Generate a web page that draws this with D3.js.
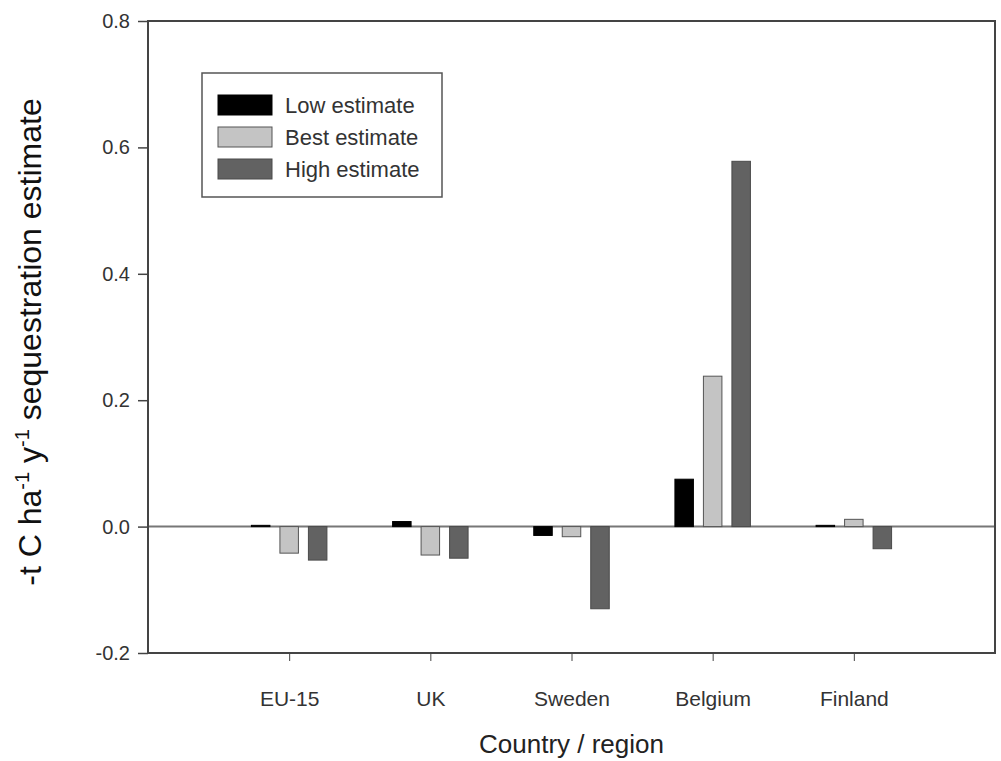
<!DOCTYPE html>
<html>
<head>
<meta charset="utf-8">
<script src="https://cdn.jsdelivr.net/npm/d3@7"></script>
<style>
  html, body { margin: 0; padding: 0; background: #fff; }
  text { font-family: "Liberation Sans", Arial, sans-serif; }
</style>
</head>
<body>
<svg id="chart" width="1001" height="761"></svg>
<script>
const categories = ["EU-15", "UK", "Sweden", "Belgium", "Finland"];
const seriesNames = ["Low estimate", "Best estimate", "High estimate"];
const lowValues  = [0.002, 0.008, -0.014, 0.075, 0.002];
const bestValues = [-0.042, -0.045, -0.016, 0.238, 0.0115];
const highValues = [-0.053, -0.050, -0.130, 0.578, -0.035];
const yTicks = [-0.2, 0.0, 0.2, 0.4, 0.6, 0.8];

(function () {
const fills = ["#000000", "#c4c4c4", "#626262"];
const strokes = ["#000000", "#555555", "#4a4a4a"];

const svg = d3.select("#chart");
const pL = 148, pR = 995, pT = 21, pB = 653;

const x = d3.scaleLinear().domain([0, categories.length + 1]).range([pL, pR]);
const y = d3.scaleLinear().domain([-0.2, 0.8]).range([pB, pT]);

const series = [lowValues, bestValues, highValues];
const barW = 18.5, barStep = 28.5;

svg.append("line")
  .attr("x1", pL).attr("x2", pR)
  .attr("y1", y(0)).attr("y2", y(0))
  .attr("stroke", "#777").attr("stroke-width", 2);

series.forEach((vals, s) => {
  svg.append("g").selectAll("rect")
    .data(vals)
    .join("rect")
    .attr("x", (d, i) => x(i + 1) + (s - 1) * barStep - barW / 2)
    .attr("y", d => y(Math.max(0, d)))
    .attr("width", barW)
    .attr("height", d => Math.abs(y(d) - y(0)))
    .attr("fill", fills[s])
    .attr("stroke", strokes[s])
    .attr("stroke-width", 1);
});

svg.append("rect")
  .attr("x", pL).attr("y", pT)
  .attr("width", pR - pL).attr("height", pB - pT)
  .attr("fill", "none").attr("stroke", "#444").attr("stroke-width", 2);

const fmt = d3.format(".1f");
const yAxis = svg.append("g")
  .attr("transform", `translate(${pL},0)`)
  .call(d3.axisLeft(y).tickValues(yTicks)
        .tickFormat(d => fmt(d).replace("\u2212", "-")).tickSize(10).tickPadding(8));
yAxis.select(".domain").remove();
yAxis.selectAll(".tick line").attr("stroke", "#444").attr("stroke-width", 1.5);
yAxis.selectAll(".tick text").attr("font-size", 20).attr("fill", "#333")
  .style("font-family", "'Liberation Sans', Arial, sans-serif");

const xAxis = svg.append("g")
  .attr("transform", `translate(0,${pB})`)
  .call(d3.axisBottom(x).tickValues(d3.range(1, categories.length + 1))
        .tickFormat(i => categories[i - 1]).tickSize(8).tickPadding(30));
xAxis.select(".domain").remove();
xAxis.selectAll(".tick line").attr("stroke", "#444").attr("stroke-width", 1);
xAxis.selectAll(".tick text").attr("font-size", 21).attr("fill", "#333")
  .style("font-family", "'Liberation Sans', Arial, sans-serif");

svg.append("text")
  .attr("x", (pL + pR) / 2).attr("y", 753)
  .attr("text-anchor", "middle").attr("font-size", 26).attr("fill", "#222")
  .text("Country / region");

const yt = svg.append("text")
  .attr("transform", `translate(41,${(pT + pB) / 2 + 5}) rotate(-90)`)
  .attr("text-anchor", "middle").attr("font-size", 32).attr("fill", "#111");
yt.append("tspan").text("-t C ha");
yt.append("tspan").attr("font-size", 20).attr("dy", -12).text("-1");
yt.append("tspan").attr("dy", 12).text(" y");
yt.append("tspan").attr("font-size", 20).attr("dy", -12).text("-1");
yt.append("tspan").attr("dy", 12).text(" sequestration estimate");

const lg = svg.append("g");
lg.append("rect").attr("x", 202).attr("y", 73).attr("width", 240).attr("height", 124)
  .attr("fill", "#fff").attr("stroke", "#555").attr("stroke-width", 1.5);
seriesNames.forEach((name, s) => {
  const yy = 95 + s * 32;
  lg.append("rect").attr("x", 218).attr("y", yy).attr("width", 54).attr("height", 20)
    .attr("fill", fills[s]).attr("stroke", strokes[s]).attr("stroke-width", 1);
  lg.append("text").attr("x", 285).attr("y", yy + 18).attr("font-size", 22).attr("fill", "#333")
    .attr("textLength", null)
    .text(name);
});
})();
</script>
</body>
</html>
